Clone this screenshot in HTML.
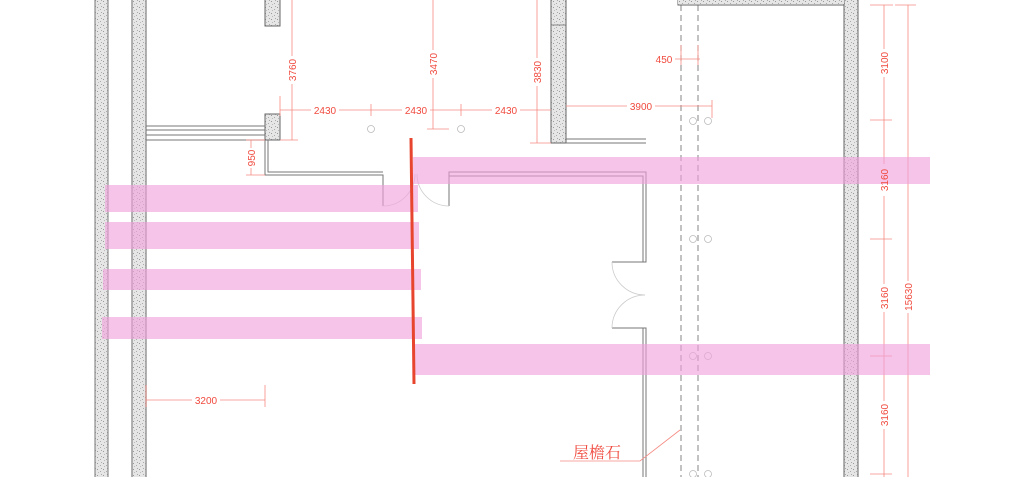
<!DOCTYPE html>
<html><head><meta charset="utf-8"><style>
html,body{margin:0;padding:0;background:#fff;width:1024px;height:477px;overflow:hidden}
svg text{font-family:"Liberation Sans",sans-serif;font-size:10px;fill:#f04a3e}
</style></head><body>
<svg width="1024" height="477" viewBox="0 0 1024 477" xmlns="http://www.w3.org/2000/svg">
<defs>
<pattern id="sp" width="6" height="6" patternUnits="userSpaceOnUse">
<rect width="6" height="6" fill="#e6e6e6"/>
<rect x="1" y="1" width="1" height="1" fill="#999"/><rect x="4" y="3" width="1" height="1" fill="#aaa"/><rect x="2" y="4" width="1" height="1" fill="#bbb"/><rect x="5" y="0" width="1" height="1" fill="#aaa"/>
</pattern>
</defs>
<!-- walls -->
<rect x="95" y="-2" width="13" height="481" fill="url(#sp)" stroke="#777" stroke-width="1"/>
<rect x="132" y="-2" width="14" height="481" fill="url(#sp)" stroke="#999" stroke-width="1.5"/>
<rect x="265" y="-2" width="15" height="28" fill="url(#sp)" stroke="#666"/>
<rect x="265" y="114" width="15" height="26" fill="url(#sp)" stroke="#666"/>
<rect x="551" y="-2" width="15" height="145" fill="url(#sp)" stroke="#666"/>
<line x1="551" y1="25" x2="566" y2="25" stroke="#888"/>
<rect x="844" y="-2" width="14" height="481" fill="url(#sp)" stroke="#666"/>
<path d="M678 0 V5 H844" fill="none" stroke="#666"/>
<rect x="678" y="-2" width="166" height="6" fill="url(#sp)"/>
<g stroke="#777" stroke-width="1">
<line x1="146" y1="126" x2="265" y2="126"/><line x1="146" y1="130" x2="265" y2="130"/><line x1="146" y1="135" x2="265" y2="135"/><line x1="146" y1="140" x2="265" y2="140"/>
<line x1="566" y1="139" x2="646" y2="139"/><line x1="566" y1="143" x2="646" y2="143"/>
</g>
<g fill="none" stroke="#777" stroke-width="1">
<path d="M265 140 V175 H383 V206"/><path d="M268 140 V172 H383"/>
<path d="M449 206 V172 H646 V262 H612"/><path d="M449 176 H643 V262"/>
<path d="M612 328 H643 V477"/><path d="M612 328 H646 V477"/>
</g>
<g fill="none" stroke="#ccc" stroke-width="0.8">
<path d="M383 206 A32 32 0 0 0 415 174"/>
<path d="M449 206 A32 32 0 0 1 417 174"/>
<path d="M612 262 A33 33 0 0 0 645 295"/>
<path d="M612 328 A33 33 0 0 1 645 295"/>
</g>
<g stroke="#666" stroke-dasharray="6,4" stroke-width="0.8">
<line x1="681" y1="5" x2="681" y2="477"/><line x1="698" y1="5" x2="698" y2="477"/>
</g>
<g fill="none" stroke="#bbb" stroke-width="0.8">
<circle cx="371" cy="129" r="3.5"/><circle cx="461" cy="129" r="3.5"/>
<circle cx="693" cy="121" r="3.5"/><circle cx="708" cy="121" r="3.5"/>
<circle cx="693" cy="239" r="3.5"/><circle cx="708" cy="239" r="3.5"/>
<circle cx="693" cy="356" r="3.5"/><circle cx="708" cy="356" r="3.5"/>
<circle cx="693" cy="474" r="3.5"/><circle cx="708" cy="474" r="3.5"/>
</g>
<!-- dimensions lines -->
<g stroke="#f58a82" stroke-width="0.8" fill="none">
<line x1="280" y1="110" x2="551" y2="110"/>
<line x1="280" y1="96" x2="280" y2="116"/>
<line x1="371" y1="104" x2="371" y2="116"/><line x1="461" y1="104" x2="461" y2="116"/>
<line x1="292" y1="0" x2="292" y2="140"/><line x1="280" y1="140" x2="298" y2="140"/>
<line x1="433" y1="0" x2="433" y2="129"/><line x1="427" y1="129" x2="449" y2="129"/>
<line x1="537" y1="0" x2="537" y2="143"/><line x1="530" y1="143" x2="551" y2="143"/>
<line x1="566" y1="106" x2="712" y2="106"/><line x1="712" y1="100" x2="712" y2="118"/>
<line x1="675" y1="59" x2="700" y2="59"/><line x1="681" y1="45" x2="681" y2="65"/><line x1="698" y1="45" x2="698" y2="65"/>
<line x1="251" y1="140" x2="251" y2="175"/><line x1="246" y1="140" x2="265" y2="140"/><line x1="246" y1="175" x2="265" y2="175"/>
<line x1="146" y1="400" x2="265" y2="400"/><line x1="146" y1="385" x2="146" y2="407"/><line x1="265" y1="385" x2="265" y2="407"/>
<line x1="884" y1="5" x2="884" y2="164"/><line x1="884" y1="196" x2="884" y2="477"/>
<line x1="908" y1="5" x2="908" y2="477"/>
<line x1="870" y1="5" x2="893" y2="5"/><line x1="895" y1="5" x2="916" y2="5"/>
<line x1="870" y1="120" x2="892" y2="120"/><line x1="870" y1="239" x2="892" y2="239"/><line x1="870" y1="356" x2="892" y2="356"/><line x1="870" y1="474" x2="892" y2="474"/>
<path d="M560 461 H640 L680 430"/>
</g>
<!-- pink bands -->
<g fill="#f0a0dc" fill-opacity="0.62">
<rect x="413" y="157" width="517" height="27"/>
<rect x="413" y="344" width="517" height="31"/>
<rect x="105" y="185" width="313" height="27"/>
<rect x="105" y="222" width="314" height="27"/>
<rect x="103" y="269" width="318" height="21"/>
<rect x="102" y="317" width="320" height="22"/>
</g>
<line x1="411" y1="138" x2="414" y2="384" stroke="#e8452f" stroke-width="3"/>
<g>
<rect x="311" y="104" width="28" height="12" fill="#fff"/><text x="325" y="114" text-anchor="middle">2430</text>
<rect x="402" y="104" width="28" height="12" fill="#fff"/><text x="416" y="114" text-anchor="middle">2430</text>
<rect x="492" y="104" width="28" height="12" fill="#fff"/><text x="506" y="114" text-anchor="middle">2430</text>
<rect x="627" y="100" width="28" height="12" fill="#fff"/><text x="641" y="110" text-anchor="middle">3900</text>
<text x="664" y="63" text-anchor="middle">450</text>
<rect x="192" y="394" width="28" height="12" fill="#fff"/><text x="206" y="404" text-anchor="middle">3200</text>
<g transform="translate(296,70) rotate(-90)"><rect x="-14" y="-9" width="28" height="12" fill="#fff"/><text x="0" y="0" text-anchor="middle">3760</text></g>
<g transform="translate(437,64) rotate(-90)"><rect x="-14" y="-9" width="28" height="12" fill="#fff"/><text x="0" y="0" text-anchor="middle">3470</text></g>
<g transform="translate(541,72) rotate(-90)"><rect x="-14" y="-9" width="28" height="12" fill="#fff"/><text x="0" y="0" text-anchor="middle">3830</text></g>
<g transform="translate(255,158) rotate(-90)"><rect x="-10" y="-9" width="20" height="12" fill="#fff"/><text x="0" y="0" text-anchor="middle">950</text></g>
<g transform="translate(888,63) rotate(-90)"><rect x="-14" y="-9" width="28" height="12" fill="#fff"/><text x="0" y="0" text-anchor="middle">3100</text></g>
<g transform="translate(888,180) rotate(-90)"><text x="0" y="0" text-anchor="middle">3160</text></g>
<g transform="translate(888,298) rotate(-90)"><rect x="-14" y="-9" width="28" height="12" fill="#fff"/><text x="0" y="0" text-anchor="middle">3160</text></g>
<g transform="translate(912,297) rotate(-90)"><rect x="-16" y="-9" width="32" height="12" fill="#fff"/><text x="0" y="0" text-anchor="middle">15630</text></g>
<g transform="translate(888,415) rotate(-90)"><rect x="-14" y="-9" width="28" height="12" fill="#fff"/><text x="0" y="0" text-anchor="middle">3160</text></g>
<text x="597" y="458" text-anchor="middle" style="font-family:'Liberation Serif','Noto Serif CJK SC',serif;font-size:16px">屋檐石</text>
</g>
</svg>
</body></html>
